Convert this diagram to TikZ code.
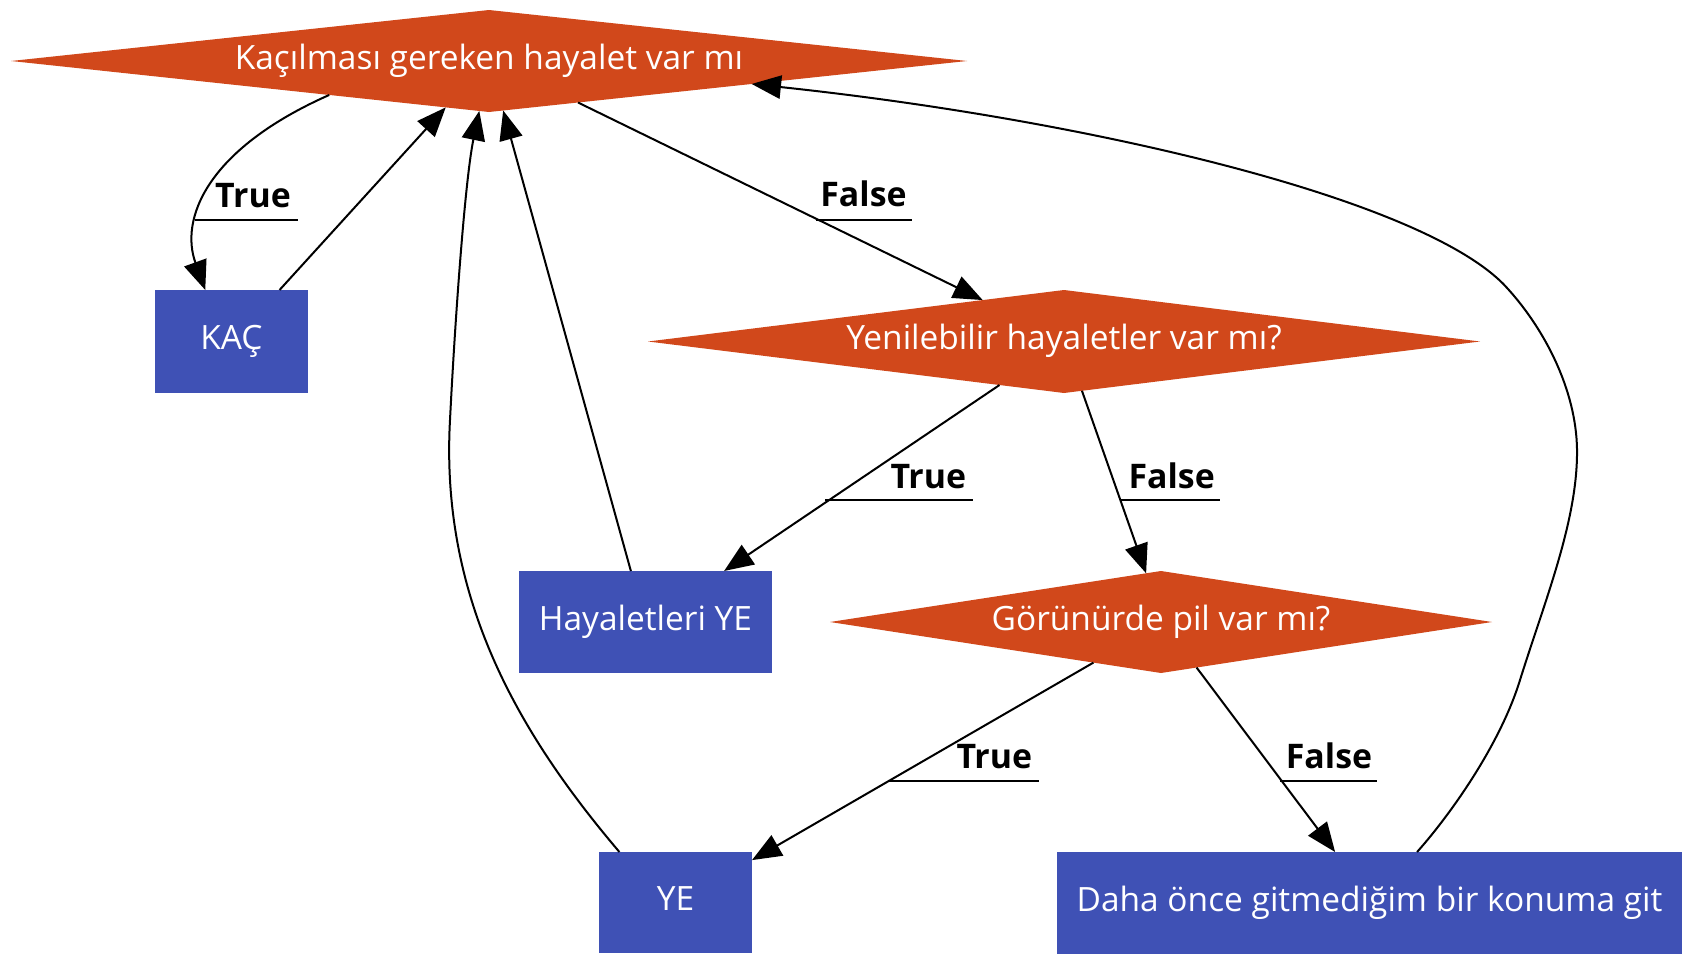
\documentclass[tikz,border=0pt]{standalone}
\usepackage{fontspec}
\setmainfont{Open Sans}
\usetikzlibrary{shapes.geometric,arrows.meta}
\definecolor{dorange}{HTML}{D1481B}
\definecolor{dblue}{HTML}{3F51B5}
\begin{document}
\begin{tikzpicture}[x=0.75pt,y=-0.75pt,
  every node/.style={font=\fontsize{25.1}{30}\selectfont, text height=18.25pt, text depth=5.8pt, inner sep=0pt, outer sep=0pt},
  dec/.style={diamond, fill=dorange, text=white},
  act/.style={rectangle, fill=dblue, text=white},
  lab/.style={font=\fontsize{25.4}{30}\selectfont\bfseries, anchor=base, text=black},
  edge/.style={line width=1.5pt, -{Triangle[length=22pt,width=17.5pt]}},
  uline/.style={line width=1.5pt}]
\useasboundingbox (0,0) rectangle (1706,978);

% decisions
\node[dec, aspect=9.4, minimum width=717pt, minimum height=76.5pt] (d1) at (489,61) {Kaçılması gereken hayalet var mı};
\node[dec, aspect=8.1, minimum width=624pt, minimum height=77.25pt] (d2) at (1064,341.5) {Yenilebilir hayaletler var mı?};
\node[dec, aspect=6.5, minimum width=496.5pt, minimum height=76.5pt] (d3) at (1161,622) {Görünürde pil var mı?};

% actions
\node[act, minimum width=114.75pt, minimum height=77.25pt] (kac) at (231.5,341.5) {KAÇ};
\node[act, minimum width=189.75pt, minimum height=76.5pt] (hyy) at (645.5,622) {Hayaletleri YE};
\node[act, minimum width=114.75pt, minimum height=75.75pt] (ye) at (675.5,902.5) {YE};
\node[act, minimum width=468.75pt, minimum height=76.5pt] (daha) at (1369.5,903) {Daha önce gitmediğim bir konuma git};

% edges
\draw[edge] (d1.-168.4) .. controls (205,150) and (180,220) .. (kac.117.3);
\draw[edge] (kac.47.4) -- (d1.-133);
\draw[edge] (d1.-25.75) -- (d2.153.7);
\draw[edge] (d2.-146.3) -- (hyy.33.9);
\draw[edge] (d2.-70.5) -- (d3.107.8);
\draw[edge] (hyy.106.2) -- (d1.-74.2);
\draw[edge] (d3.-149.3) -- (ye.29);
\draw[edge] (d3.-52.9) -- (daha.124.8);
\draw[edge] (ye.138.7) .. controls (520,735) and (440,600) .. (450,420)
   .. controls (455,320) and (465,180) .. (d1.-101.3);
\draw[edge] (daha.47) .. controls (1450,815) and (1500,745) .. (1520,680)
   .. controls (1545,600) and (1578,520) .. (1577,449)
   .. controls (1576,390) and (1545,330) .. (1508,289)
   .. controls (1430,200) and (1090,120) .. (d1.-5.1);

% labels
\node[lab] (l1) at (253,207.5) {True};
\node[lab] (l2) at (863.5,206.7) {False};
\node[lab] (l3) at (928.3,488.3) {True};
\node[lab] (l4) at (1171.7,488.3) {False};
\node[lab] (l5) at (994.3,768.8) {True};
\node[lab] (l6) at (1329,768.8) {False};

\coordinate (u1a) at (195,219.5);   \coordinate (u1b) at (298,219.5);
\coordinate (u2a) at (815.5,219.5); \coordinate (u2b) at (912,219.5);
\coordinate (u3a) at (825,500);     \coordinate (u3b) at (973,500);
\coordinate (u4a) at (1120,500);    \coordinate (u4b) at (1220,500);
\coordinate (u5a) at (889,780.5);   \coordinate (u5b) at (1039,780.5);
\coordinate (u6a) at (1279.8,780.5);\coordinate (u6b) at (1377.4,780.5);
\draw[uline] (u1a) -- (u1b);
\draw[uline] (u2a) -- (u2b);
\draw[uline] (u3a) -- (u3b);
\draw[uline] (u4a) -- (u4b);
\draw[uline] (u5a) -- (u5b);
\draw[uline] (u6a) -- (u6b);
\end{tikzpicture}
\end{document}
